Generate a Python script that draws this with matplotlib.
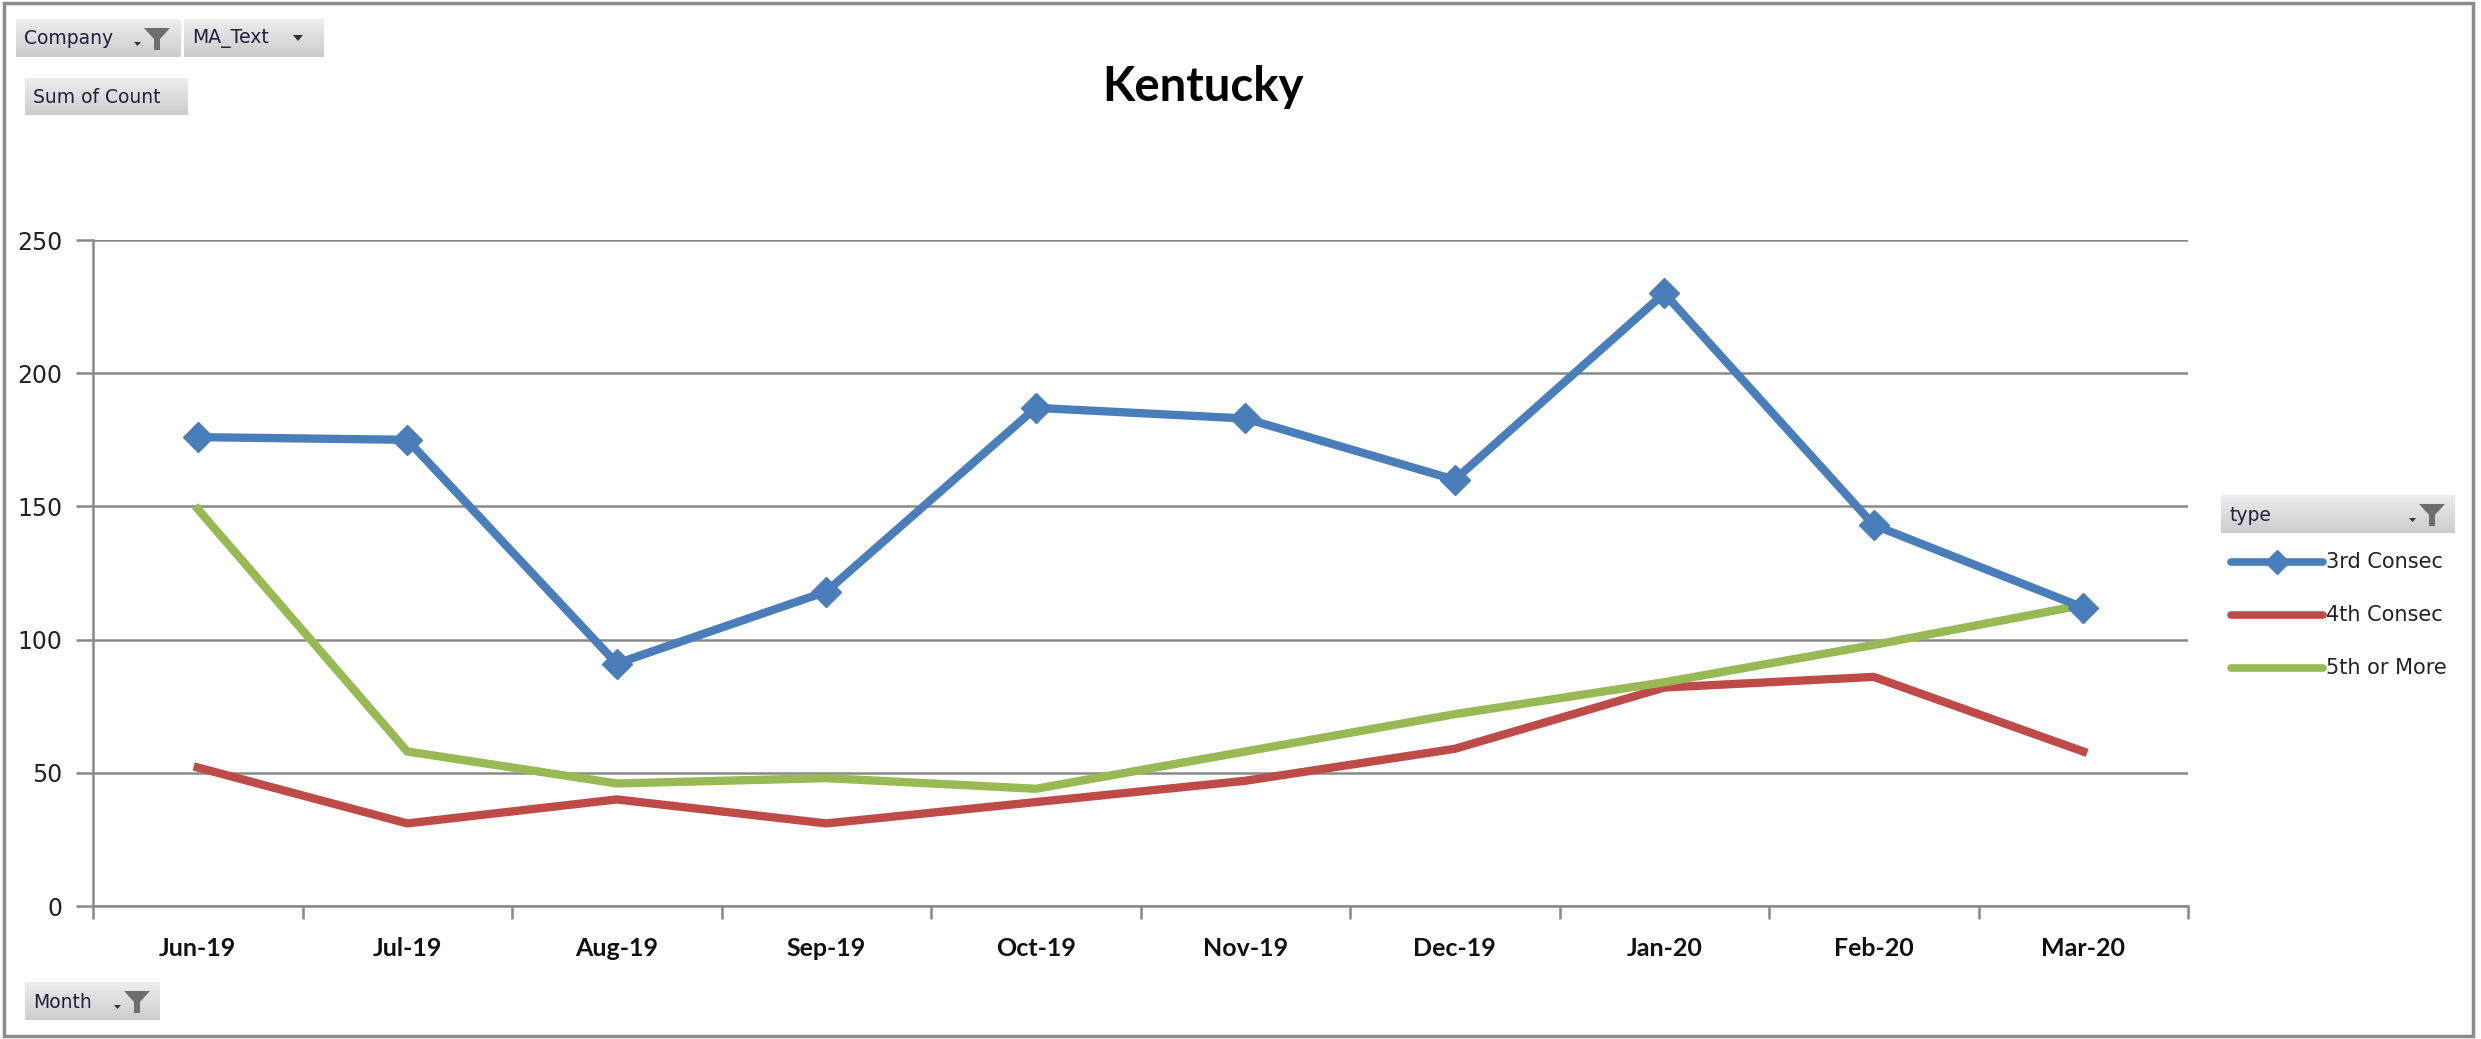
import numpy as np
import matplotlib
matplotlib.use("Agg")
from matplotlib import pyplot as plt
from matplotlib.patches import Polygon, Rectangle

months = ['Jun-19', 'Jul-19', 'Aug-19', 'Sep-19', 'Oct-19',
          'Nov-19', 'Dec-19', 'Jan-20', 'Feb-20', 'Mar-20']
third_consec = [176, 175, 91, 118, 187, 183, 160, 230, 143, 112]
fourth_consec = [52, 31, 40, 31, 39, 47, 59, 82, 86, 58]
fifth_or_more = [149, 58, 46, 48, 44, 58, 72, 84, 98, 113]
series_names = ['3rd Consec', '4th Consec', '5th or More']
y_ticks = [0, 50, 100, 150, 200, 250]

BLUE = '#4A7EBB'
RED = '#BE4B48'
GREEN = '#98B954'
GRID = '#898989'

W, H = 2481, 1039
fig = plt.figure(figsize=(W / 100, H / 100), dpi=100)
fig.patch.set_facecolor('white')

# pixel -> figure fraction helpers (origin top-left)
def fx(px):
    return px / W

def fy(py):
    return 1 - py / H

ax = fig.add_axes([fx(93), fy(906), fx(2188) - fx(93), fy(240) - fy(906)])
x = np.arange(len(months))
ax.plot(x, third_consec, color=BLUE, lw=6, marker='D', ms=15,
        solid_joinstyle='miter', zorder=5)
ax.plot(x, fourth_consec, color=RED, lw=6, zorder=3)
ax.plot(x, fifth_or_more, color=GREEN, lw=6, zorder=4)

ax.set_xlim(-0.5, len(months) - 0.5)
ax.set_ylim(0, 250)
ax.set_yticks(y_ticks)
ax.set_yticklabels([str(t) for t in y_ticks], fontsize=17, family='DejaVu Sans',
                   color='#222222')
ax.yaxis.grid(True, color=GRID, lw=1.8)
ax.set_axisbelow(True)
ax.tick_params(axis='y', length=12, width=1.8, color=GRID, pad=10)

ax.set_xticks(np.arange(-0.5, len(months), 1.0))
ax.set_xticklabels([])
ax.set_xticks(x, minor=True)
ax.set_xticklabels(months, minor=True, fontsize=18, fontweight='bold',
                   family='Lato', color='#111111')
ax.tick_params(axis='x', which='major', length=9, width=1.8, color=GRID)
ax.tick_params(axis='x', which='minor', length=0, pad=22)

for side in ['top', 'right']:
    ax.spines[side].set_visible(False)
ax.spines['left'].set_color(GRID)
ax.spines['left'].set_linewidth(1.8)
ax.spines['bottom'].set_color(GRID)
ax.spines['bottom'].set_linewidth(1.8)

fig.text(fx(1203), fy(87), 'Kentucky', fontsize=34, fontweight='bold',
         family='Lato', ha='center', va='center')

# outer border of the chart area
fig.patches.append(Rectangle((fx(4), fy(1036)), fx(2473) - fx(4), fy(3) - fy(1036),
                             transform=fig.transFigure, fill=False,
                             edgecolor='#8C8C8C', lw=2.5))

gradient = np.linspace(0.93, 0.80, 64).reshape(-1, 1)

def button(x0, y0, x1, y1, label, funnel=False, arrow=False):
    bax = fig.add_axes([fx(x0), fy(y1), fx(x1) - fx(x0), fy(y0) - fy(y1)])
    bax.imshow(gradient, cmap='gray', vmin=0, vmax=1, aspect='auto',
               extent=[0, 1, 0, 1])
    bax.set_xlim(0, 1)
    bax.set_ylim(0, 1)
    bax.axis('off')
    fig.text(fx(x0 + 8), fy((y0 + y1) / 2 + 1), label, fontsize=13.5,
             family='DejaVu Sans', color='#1F1F3F', ha='left', va='center')
    cy = (y0 + y1) / 2
    if funnel:
        r = x1 - 10
        pts = [(r - 26, cy - 10), (r, cy - 10), (r - 10, cy + 1),
               (r - 10, cy + 12), (r - 16, cy + 12), (r - 16, cy + 1)]
        fig.patches.append(Polygon([(fx(a), fy(b)) for a, b in pts],
                                   closed=True, transform=fig.transFigure,
                                   facecolor='#6E6E6E', edgecolor='none'))
        dx = r - 36
        fig.patches.append(Polygon([(fx(dx), fy(cy + 4)), (fx(dx + 7), fy(cy + 4)),
                                    (fx(dx + 3.5), fy(cy + 8))], closed=True,
                                   transform=fig.transFigure,
                                   facecolor='#333333', edgecolor='none'))
    if arrow:
        dx = x1 - 30
        fig.patches.append(Polygon([(fx(dx), fy(cy - 3)), (fx(dx + 10), fy(cy - 3)),
                                    (fx(dx + 5), fy(cy + 3))], closed=True,
                                   transform=fig.transFigure,
                                   facecolor='#333333', edgecolor='none'))

button(16, 19, 180, 57, 'Company', funnel=True)
button(184, 19, 323, 57, 'MA_Text', arrow=True)
button(25, 78, 188, 115, 'Sum of Count')
button(25, 982, 160, 1020, 'Month', funnel=True)
button(2221, 495, 2455, 533, 'type', funnel=True)

# legend entries drawn beside the plot
legend_rows = [562, 615, 668]
legend_styles = [(BLUE, 'D'), (RED, None), (GREEN, None)]
for name, row, (col, mk) in zip(series_names, legend_rows, legend_styles):
    fig.add_artist(plt.Line2D([fx(2231), fx(2323)], [fy(row), fy(row)],
                              transform=fig.transFigure, color=col, lw=5.5,
                              solid_capstyle='round'))
    if mk:
        fig.add_artist(plt.Line2D([fx(2277)], [fy(row)], transform=fig.transFigure,
                                  color=col, marker=mk, ms=12, lw=0))
    fig.text(fx(2326), fy(row), name, fontsize=15, family='DejaVu Sans',
             color='#222222', ha='left', va='center')

plt.savefig('out.png', dpi=100)
